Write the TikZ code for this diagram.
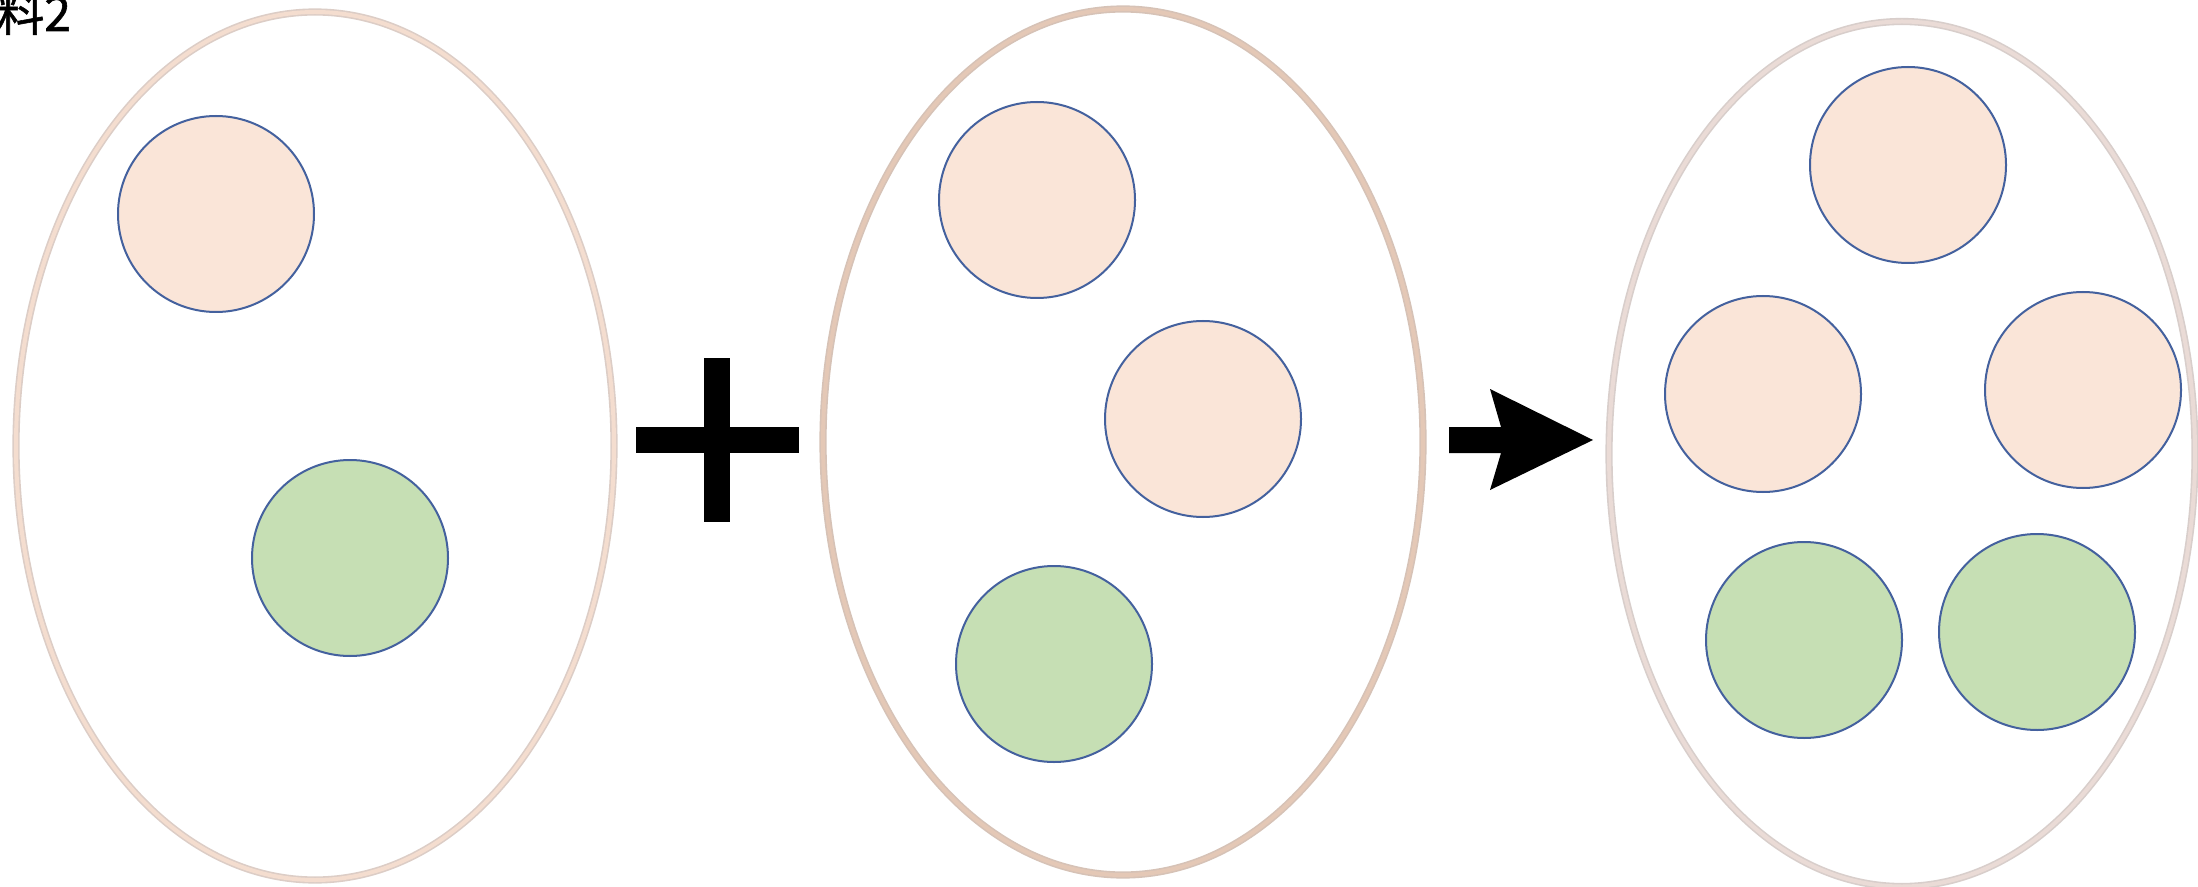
\documentclass[tikz,border=0pt]{standalone}
\usepackage{fontspec}
\newfontfamily\cjk[FakeBold=1.2]{Noto Sans CJK JP}
\usetikzlibrary{shapes.geometric}
\definecolor{peach}{HTML}{FAE5D8}
\definecolor{leaf}{HTML}{C6DFB4}
\definecolor{rim}{HTML}{44619E}
\definecolor{ringA}{HTML}{F4DDCF}
\definecolor{ringAo}{HTML}{DCCDC6}
\definecolor{ringB}{HTML}{E4C8B6}
\definecolor{ringBo}{HTML}{D6C2B6}
\definecolor{ringC}{HTML}{EADBD6}
\definecolor{ringCo}{HTML}{D8CECB}
\tikzset{
  cell/.style={ellipse, inner sep=0pt, line width=0.8pt, double distance=2pt},
  blob/.style={circle, inner sep=0pt, minimum size=196*0.5pt, draw=rim, line width=1pt},
  pblob/.style={blob, fill=peach},
  gblob/.style={blob, fill=leaf}
}
\begin{document}
\begin{tikzpicture}[x=0.5pt,y=-0.5pt]
\useasboundingbox (0,0) rectangle (2198,887);
\fill[white] (0,0) rectangle (2198,887);
\node[anchor=base west, inner sep=0pt, font=\cjk\fontsize{24}{28}\selectfont] (label) at (-4,31) {料2};
% cells
\node[cell, draw=ringAo, double=ringA, minimum width=598*0.5pt, minimum height=868*0.5pt] (e1) at (315,446) {};
\node[cell, draw=ringBo, double=ringB, minimum width=600*0.5pt, minimum height=866*0.5pt] (e2) at (1123,442) {};
\node[cell, draw=ringCo, double=ringC, minimum width=586*0.5pt, minimum height=865*0.5pt] (e3) at (1902,454) {};
% circles
\node[pblob] (a1) at (216,214) {};
\node[gblob] (a2) at (350,558) {};
\node[pblob] (b1) at (1037,200) {};
\node[pblob] (b2) at (1203,419) {};
\node[gblob] (b3) at (1054,664) {};
\node[pblob] (c1) at (1908,165) {};
\node[pblob] (c2) at (1763,394) {};
\node[pblob] (c3) at (2083,390) {};
\node[gblob] (c4) at (1804,640) {};
\node[gblob] (c5) at (2037,632) {};
% plus
\fill[black] (636,427) rectangle (799,453);
\fill[black] (704,358) rectangle (730,522);
% arrow
\fill[black] (1449,427) -- (1501,427) -- (1490,389) -- (1593,440) -- (1490,490) -- (1501,453) -- (1449,453) -- cycle;
\end{tikzpicture}
\end{document}
